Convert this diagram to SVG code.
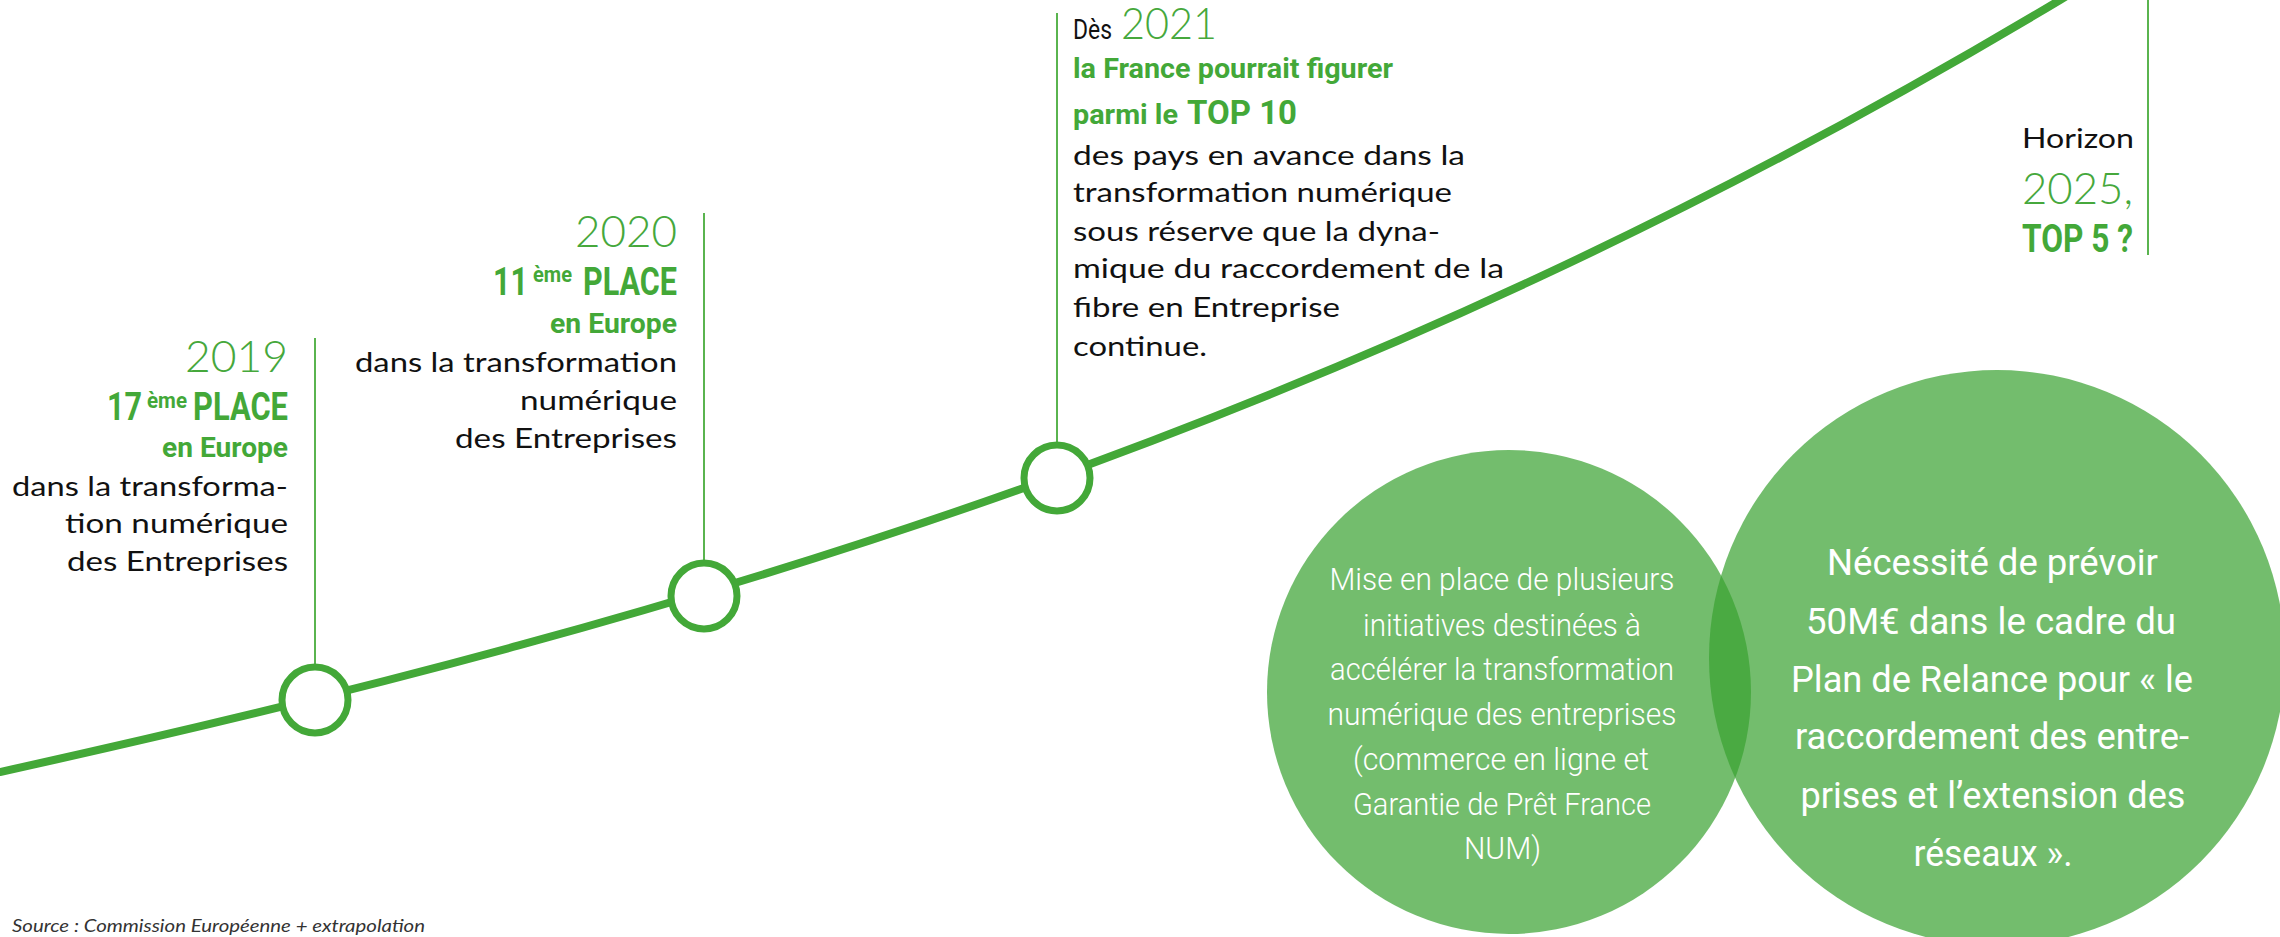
<svg xmlns="http://www.w3.org/2000/svg" width="2280" height="937" viewBox="0 0 2280 937">
<style>
.body{font-family:Lato,"Noto Sans","Liberation Sans",sans-serif;font-size:27px;fill:#111}
.year{font-family:Lato,"Noto Sans",sans-serif;font-weight:300;font-size:44px;fill:#46a83c}
.bold{font-family:Roboto,"Liberation Sans",sans-serif;font-weight:700;fill:#43a838}
.cond{font-family:Roboto,"Liberation Sans",sans-serif;font-weight:400;fill:#111}
.c1{font-family:Roboto,"Liberation Sans",sans-serif;font-weight:300;font-size:32px;fill:#fff}
.c2{font-family:Roboto,"Liberation Sans",sans-serif;font-weight:400;font-size:37px;fill:#fff}
.src{font-family:Lato,"Noto Sans",sans-serif;font-style:italic;font-size:17px;fill:#333}
.tick{stroke:#5ab44f;stroke-width:2;fill:none}
.curve{stroke:#43a838;stroke-width:8;fill:none}
.dot{fill:#fff;stroke:#43a838;stroke-width:7}
.bub{fill:#3aa232;fill-opacity:0.71}
</style>

<g id="bubbles">
  <g id="bubble-initiatives">
    <circle class="bub" cx="1509" cy="692" r="242"/>
    <text class="c1" x="1329.5" y="590" textLength="345" lengthAdjust="spacingAndGlyphs">Mise en place de plusieurs</text>
    <text class="c1" x="1363" y="636" textLength="278" lengthAdjust="spacingAndGlyphs">initiatives destinées à</text>
    <text class="c1" x="1330" y="680" textLength="344" lengthAdjust="spacingAndGlyphs">accélérer la transformation</text>
    <text class="c1" x="1327.5" y="725" textLength="349" lengthAdjust="spacingAndGlyphs">numérique des entreprises</text>
    <text class="c1" x="1353" y="770" textLength="296" lengthAdjust="spacingAndGlyphs">(commerce en ligne et</text>
    <text class="c1" x="1353" y="815" textLength="298" lengthAdjust="spacingAndGlyphs">Garantie de Prêt France</text>
    <text class="c1" x="1464" y="859" textLength="77" lengthAdjust="spacingAndGlyphs">NUM)</text>
  </g>
  <g id="bubble-relance">
    <circle class="bub" cx="1997" cy="658" r="288"/>
    <text class="c2" x="1827" y="575" textLength="331" lengthAdjust="spacingAndGlyphs">Nécessité de prévoir</text>
    <text class="c2" x="1806" y="634" textLength="370" lengthAdjust="spacingAndGlyphs">50M€ dans le cadre du</text>
    <text class="c2" x="1791" y="692" textLength="402" lengthAdjust="spacingAndGlyphs">Plan de Relance pour « le</text>
    <text class="c2" x="1795" y="749" textLength="394" lengthAdjust="spacingAndGlyphs">raccordement des entre-</text>
    <text class="c2" x="1800.5" y="808" textLength="385" lengthAdjust="spacingAndGlyphs">prises et l’extension des</text>
    <text class="c2" x="1913.5" y="866" textLength="159" lengthAdjust="spacingAndGlyphs">réseaux ».</text>
  </g>
</g>

<g id="connectors">
  <path class="curve" d="M-40,780.8 L0,772 C700,618 1360,420 2060,0 L2100,-24"/>
  <line class="tick" x1="315" y1="338" x2="315" y2="666"/>
  <line class="tick" x1="704" y1="213" x2="704" y2="562"/>
  <line class="tick" x1="1057" y1="13" x2="1057" y2="444"/>
  <line class="tick" x1="2148" y1="0" x2="2148" y2="255"/>
</g>

<g id="node-2019">
  <circle class="dot" cx="315" cy="700" r="33"/>
  <text class="year" x="185" y="372" textLength="103" lengthAdjust="spacingAndGlyphs">2019</text>
  <text class="bold" font-size="39"><tspan x="107" y="420" textLength="35" lengthAdjust="spacingAndGlyphs">17</tspan><tspan x="147" y="408" font-size="22" textLength="40" lengthAdjust="spacingAndGlyphs">ème</tspan><tspan x="193" y="420" textLength="95" lengthAdjust="spacingAndGlyphs">PLACE</tspan></text>
  <text class="bold" x="162" y="457" font-size="28" textLength="126" lengthAdjust="spacingAndGlyphs">en Europe</text>
  <text class="body" x="12" y="496" textLength="276" lengthAdjust="spacingAndGlyphs">dans la transforma-</text>
  <text class="body" x="65" y="533" textLength="223" lengthAdjust="spacingAndGlyphs">tion numérique</text>
  <text class="body" x="67" y="571" textLength="221" lengthAdjust="spacingAndGlyphs">des Entreprises</text>
</g>

<g id="node-2020">
  <circle class="dot" cx="704" cy="596" r="33"/>
  <text class="year" x="575" y="247" textLength="102" lengthAdjust="spacingAndGlyphs">2020</text>
  <text class="bold" font-size="39"><tspan x="493" y="295" textLength="35" lengthAdjust="spacingAndGlyphs">11</tspan><tspan x="533" y="282" font-size="22" textLength="39" lengthAdjust="spacingAndGlyphs">ème</tspan><tspan x="583" y="295" textLength="94" lengthAdjust="spacingAndGlyphs">PLACE</tspan></text>
  <text class="bold" x="550" y="333" font-size="28" textLength="127" lengthAdjust="spacingAndGlyphs">en Europe</text>
  <text class="body" x="355" y="372" textLength="322" lengthAdjust="spacingAndGlyphs">dans la transformation</text>
  <text class="body" x="520" y="410" textLength="157" lengthAdjust="spacingAndGlyphs">numérique</text>
  <text class="body" x="455" y="448" textLength="222" lengthAdjust="spacingAndGlyphs">des Entreprises</text>
</g>

<g id="node-2021">
  <circle class="dot" cx="1057" cy="478" r="33"/>
  <text class="cond" x="1073" y="39" font-size="28" textLength="39" lengthAdjust="spacingAndGlyphs">Dès</text>
  <text class="year" x="1121" y="39" textLength="96" lengthAdjust="spacingAndGlyphs">2021</text>
  <text class="bold" x="1073" y="78" font-size="28" textLength="320" lengthAdjust="spacingAndGlyphs">la France pourrait figurer</text>
  <text class="bold" x="1073" y="124" font-size="28" textLength="105" lengthAdjust="spacingAndGlyphs">parmi le</text>
  <text class="bold" x="1187" y="124" font-size="34" textLength="110" lengthAdjust="spacingAndGlyphs">TOP 10</text>
  <text class="body" x="1073" y="165" textLength="392" lengthAdjust="spacingAndGlyphs">des pays en avance dans la</text>
  <text class="body" x="1073" y="202" textLength="379" lengthAdjust="spacingAndGlyphs">transformation numérique</text>
  <text class="body" x="1073" y="241" textLength="367" lengthAdjust="spacingAndGlyphs">sous réserve que la dyna-</text>
  <text class="body" x="1073" y="278" textLength="431" lengthAdjust="spacingAndGlyphs">mique du raccordement de la</text>
  <text class="body" x="1073" y="317" textLength="267" lengthAdjust="spacingAndGlyphs">fibre en Entreprise</text>
  <text class="body" x="1073" y="356" textLength="134" lengthAdjust="spacingAndGlyphs">continue.</text>
</g>

<g id="node-2025">
  <text class="body" x="2022" y="148" textLength="112" lengthAdjust="spacingAndGlyphs">Horizon</text>
  <text class="year" x="2022" y="204" textLength="111" lengthAdjust="spacingAndGlyphs">2025,</text>
  <text class="bold" x="2022" y="252" font-size="38" textLength="111" lengthAdjust="spacingAndGlyphs">TOP 5 ?</text>
</g>

<g id="source">
  <text class="src" x="12" y="932" textLength="413" lengthAdjust="spacingAndGlyphs">Source : Commission Européenne + extrapolation</text>
</g>
</svg>
